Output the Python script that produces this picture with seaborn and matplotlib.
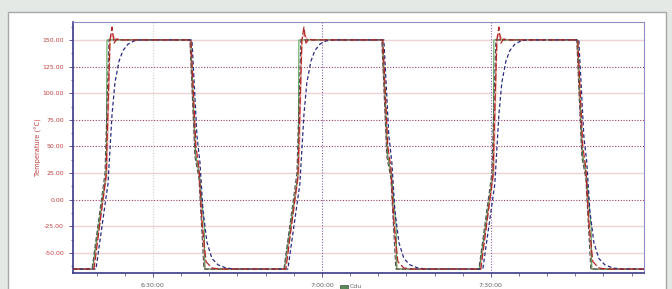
import matplotlib
matplotlib.use("Agg")
import matplotlib.pyplot as plt
from matplotlib.patches import Rectangle
from matplotlib.ticker import FuncFormatter, MultipleLocator, FixedLocator
import seaborn as sns
import pandas as pd

# ---- data (x in minutes since midnight, y in degC) ----
red_t = [375.8, 379.53, 381.66, 382.37, 382.73, 383.08, 383.61, 384.14, 396.75, 397.63, 398.17, 398.70, 399.41, 400.47, 401.89,
         413.61, 415.74, 416.45, 416.81, 417.16, 417.69, 418.22, 430.83, 431.71, 432.25, 432.78, 433.49, 434.55, 435.97,
         448.23, 450.36, 451.07, 451.43, 451.78, 452.31, 452.84, 465.45, 466.33, 466.87, 467.40, 468.11, 469.17, 470.59, 477.2]
red_v = [-65, -65, 22, 150, 162, 147, 151, 150, 150, 50, 30, -20, -58, -64, -65,
         -65, 22, 150, 162, 147, 151, 150, 150, 50, 30, -20, -58, -64, -65,
         -65, 22, 150, 162, 147, 151, 150, 150, 50, 30, -20, -58, -64, -65, -65]

blue_t = [375.8, 379.88, 382.01, 382.73, 383.25, 383.97, 384.67, 385.56, 386.63, 387.69, 396.92, 397.81, 398.34, 398.88, 399.59, 400.47, 401.54, 402.96, 404.56,
          413.96, 416.09, 416.81, 417.33, 418.05, 418.75, 419.64, 420.71, 421.77, 431.00, 431.89, 432.42, 432.96, 433.67, 434.55, 435.62, 437.04, 438.64,
          448.58, 450.71, 451.43, 451.95, 452.67, 453.37, 454.26, 455.33, 456.39, 465.62, 466.51, 467.04, 467.58, 468.29, 469.17, 470.24, 471.66, 473.26, 477.2]
blue_v = [-65, -65, 15, 80, 110, 130, 140, 146, 149, 150, 150, 60, 35, -10, -40, -55, -61, -64, -65,
          -65, 15, 80, 110, 130, 140, 146, 149, 150, 150, 60, 35, -10, -40, -55, -61, -64, -65,
          -65, 15, 80, 110, 130, 140, 146, 149, 150, 150, 60, 35, -10, -40, -55, -61, -64, -65, -65]

grey_t = [375.8, 379.17, 381.48, 382.19, 396.57, 397.46, 398.17, 399.05,
          413.25, 415.56, 416.27, 430.65, 431.54, 432.25, 433.13,
          447.87, 450.18, 450.89, 465.27, 466.16, 466.87, 467.75, 477.2]
grey_v = [-65, -65, 25, 150, 150, 40, 20, -65,
          -65, 25, 150, 150, 40, 20, -65,
          -65, 25, 150, 150, 40, 20, -65, -65]

pink_t = [375.8, 379.35, 381.84, 382.37, 382.73, 383.43, 396.57, 397.46, 398.17, 399.23,
          413.43, 415.92, 416.45, 416.81, 417.51, 430.65, 431.54, 432.25, 433.31,
          448.05, 450.54, 451.07, 451.43, 452.13, 465.27, 466.16, 466.87, 467.93, 477.2]
pink_v = [-65, -65, 25, 150, 156, 150, 150, 45, 25, -65,
          -65, 25, 150, 156, 150, 150, 45, 25, -65,
          -65, 25, 150, 156, 150, 150, 45, 25, -65, -65]

green_t = [375.8, 379.25, 381.70, 381.84, 396.7, 397.6, 398.3, 399.1, 399.23,
           413.33, 415.78, 415.92, 430.78, 431.68, 432.38, 433.18, 433.31,
           447.95, 450.40, 450.54, 465.40, 466.30, 467.00, 467.80, 467.93, 477.2]
green_v = [-65, -65, 25, 150, 150, 42, 22, -25, -65,
           -65, 25, 150, 150, 42, 22, -25, -65,
           -65, 25, 150, 150, 42, 22, -25, -65, -65]

y_ticks = [150, 125, 100, 75, 50, 25, 0, -25, -50]
x_ticks = [390, 420, 450]
dark_grid = [125, 75, 50, 0]
light_grid = [150, 100, 25, -25, -50]

sns.set_style("white")
W, H = 672, 289
fig = plt.figure(figsize=(W / 100, H / 100), dpi=100)
fig.patch.set_facecolor("#e4e9e6")
fig.patches.append(Rectangle((8 / W, -0.05), (666 - 8) / W, 1.05 - 12 / H,
                             transform=fig.transFigure, facecolor="white",
                             edgecolor="#a8a8a8", lw=1.0, zorder=-5))

ax = fig.add_axes([73 / W, 1 - 273 / H, (644 - 73) / W, (273 - 22) / H])
ax.set_zorder(2)
ax.set_facecolor("white")

for g in light_grid:
    ax.axhline(g, color="#ecd4d4", lw=1.0, zorder=1)
for g in dark_grid:
    ax.axhline(g, color="#9a3f6a", lw=0.8, ls=(0, (1, 1.5)), zorder=1)
ax.axvline(390, color="#d0d0d0", lw=0.8, ls=(0, (1, 1.5)), zorder=1)
for g in x_ticks[1:]:
    ax.axvline(g, color="#8a5fb0", lw=0.8, ls=(0, (1, 1.5)), zorder=1)

def draw(t, v, color, lw, dashes, z):
    df = pd.DataFrame({"t": t, "v": v})
    sns.lineplot(data=df, x="t", y="v", ax=ax, color=color, lw=lw,
                 sort=False, estimator=None, zorder=z)
    line = ax.lines[-1]
    if dashes is not None:
        line.set_linestyle((0, dashes))

draw(pink_t, pink_v, "#f2a8a8", 1.0, None, 3)
draw(green_t, green_v, "#4a9a4a", 0.7, None, 4)
draw(grey_t, grey_v, "#505050", 0.8, (4, 2), 5)
draw(blue_t, blue_v, "#2a2a80", 0.9, (3, 2), 6)
draw(red_t, red_v, "#b02828", 0.9, (6, 2), 7)

ax.set_xlim(375.8, 477.2)
ax.set_ylim(-68.7, 166.8)

ax.yaxis.set_major_locator(FixedLocator(y_ticks))
ax.yaxis.set_minor_locator(MultipleLocator(12.5))
ax.yaxis.set_major_formatter(FuncFormatter(lambda v, p: f"{v:.2f}"))
ax.xaxis.set_major_locator(FixedLocator(x_ticks))
ax.xaxis.set_minor_locator(MultipleLocator(5))

def hms(m, p):
    m = int(round(m))
    return f"{m // 60}:{m % 60:02d}:00"
ax.xaxis.set_major_formatter(FuncFormatter(hms))

ax.tick_params(axis="y", which="major", labelsize=4.5, labelcolor="#c04040",
               color="#3a3a8a", length=3, width=0.6, direction="out", left=True)
ax.tick_params(axis="y", which="minor", color="#3a3a8a", length=1.5, width=0.5, left=True)
ax.tick_params(axis="x", which="major", labelsize=4.5, labelcolor="#606060",
               color="#3a3a8a", length=3, width=0.6, direction="out", bottom=True, pad=4)
ax.tick_params(axis="x", which="minor", color="#3a3a8a", length=2, width=0.5, bottom=True)

for s in ["left", "bottom"]:
    ax.spines[s].set_color("#3a3a8a")
    ax.spines[s].set_linewidth(1.2)
for s in ["top", "right"]:
    ax.spines[s].set_color("#8e8ec4")
    ax.spines[s].set_linewidth(0.8)

ax.set_xlabel("")
ax.set_ylabel("Temperature (°C)", fontsize=4.8, color="#c04040")
ax.yaxis.set_label_coords(-(73 - 42) / (644 - 73), 0.5)

# legend fragment at bottom
fig.patches.append(Rectangle((340 / W, 1 - 289 / H), 8 / W, 4 / H,
                             transform=fig.transFigure, facecolor="#5a8a5a",
                             edgecolor="#405040", lw=0.5, zorder=5))
fig.text(350 / W, 1 - 287 / H, "Cdu", fontsize=4.5, color="#707070",
         va="center", ha="left")

fig.savefig("out.png", dpi=100, facecolor=fig.get_facecolor())
